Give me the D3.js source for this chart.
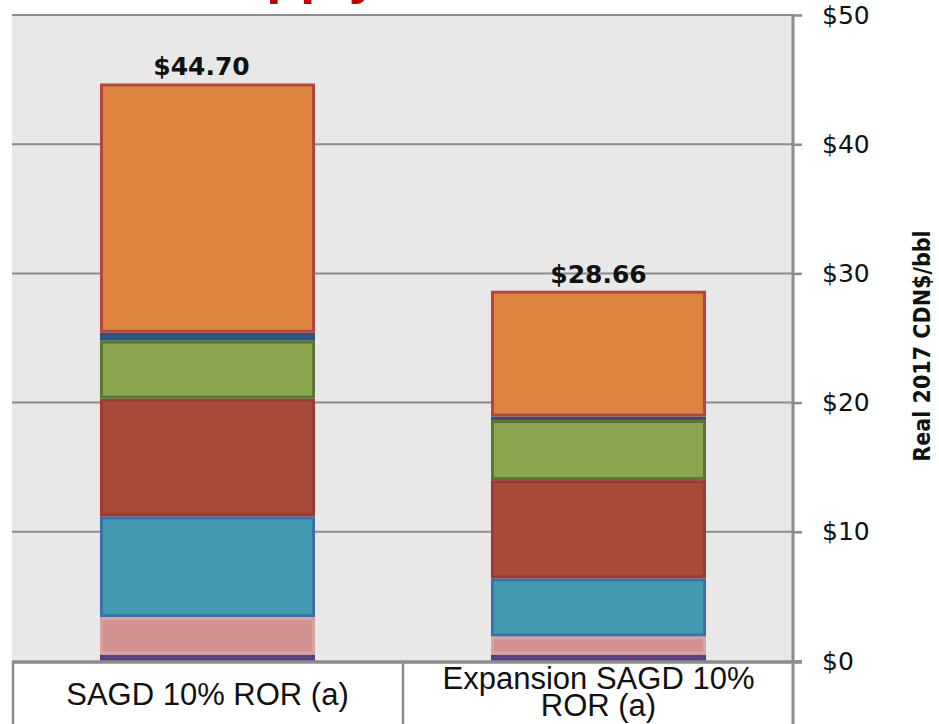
<!DOCTYPE html>
<html>
<head>
<script src="https://cdn.jsdelivr.net/npm/d3@7"></script>
<style>
    body { margin: 0; background: #fff; }
    svg { display: block; }
</style>
</head>
<body>
<svg id="chart"></svg>
<script>
    // Data (stack order: bottom to top)
    const categories = ["SAGD 10% ROR (a)", "Expansion SAGD 10% ROR (a)"];
    const categoryLines = [["SAGD 10% ROR (a)"], ["Expansion SAGD 10%", "ROR (a)"]];
    const seriesNames = ["purple", "pink", "teal", "red", "green", "blue", "orange"];
    const purpleVals = [0.5, 0.5];
    const pinkVals = [2.9, 1.4];
    const tealVals = [7.8, 4.5];
    const redVals = [9.1, 7.6];
    const greenVals = [4.5, 4.65];
    const blueVals = [0.6, 0.27];
    const orangeVals = [19.3, 9.74];
    const yTicks = [0, 10, 20, 30, 40, 50];
    const yTitle = "Real 2017 CDN$/bbl";

    const fills = ["#755791", "#d29291", "#4399b0", "#a84c39", "#8aa64e", "#2e5e8a", "#dd8540"];
    const strokes = ["#5a3d80", "#dba3a3", "#3a72a8", "#9b3b35", "#5f7432", "#2b5478", "#b0473a"];

    const width = 939, height = 724;
    const plot = { left: 12, right: 794, top: 15, bottom: 661 };

    const svg = d3.select("#chart").attr("width", width).attr("height", height);

    // build rows for stacking
    const allVals = [purpleVals, pinkVals, tealVals, redVals, greenVals, blueVals, orangeVals];
    const rows = categories.map((c, i) => {
        let r = { cat: c };
        seriesNames.forEach((s, j) => r[s] = allVals[j][i]);
        return r;
    });
    const stacked = d3.stack().keys(seriesNames)(rows);

    let x = d3.scaleBand(categories, [plot.left, plot.right]).padding(0);
    let y = d3.scaleLinear([0, 50], [plot.bottom, plot.top]);
    const barW = x.bandwidth() * 0.55;

    // red heading above the chart, mostly outside the picture
    svg.append("text")
        .attr("x", 196).attr("y", -8)
        .attr("font-family", "Liberation Sans, Arial, sans-serif")
        .attr("font-weight", "bold")
        .attr("font-size", 55)
        .attr("fill", "#c00000")
        .text("Supply");

    // plot background
    svg.append("rect")
        .attr("x", plot.left).attr("y", plot.top)
        .attr("width", plot.right - plot.left)
        .attr("height", plot.bottom - plot.top)
        .attr("fill", "#e8e8e8");

    // gridlines
    svg.append("g")
        .selectAll("line")
        .data(yTicks.filter(d => d > 0))
        .join("line")
        .attr("x1", plot.left).attr("x2", plot.right)
        .attr("y1", d => y(d)).attr("y2", d => y(d))
        .attr("stroke", "#8c8c8c")
        .attr("stroke-width", 2);

    // stacked bars
    svg.append("g")
        .selectAll("g")
        .data(stacked)
        .join("g")
        .attr("fill", (d, i) => fills[i])
        .attr("stroke", (d, i) => strokes[i])
        .attr("stroke-width", 3)
        .selectAll("rect")
        .data(d => d)
        .join("rect")
        .attr("x", d => x(d.data.cat) + (x.bandwidth() - barW) / 2 + 1.5)
        .attr("width", barW - 3)
        .attr("y", d => y(d[1]) + 1.5)
        .attr("height", d => Math.max(0, y(d[0]) - y(d[1]) - 3));

    // totals above bars
    svg.append("g")
        .selectAll("text")
        .data(rows)
        .join("text")
        .attr("x", (d, i) => x(d.cat) + x.bandwidth() / 2 - (i === 0 ? 6 : 0))
        .attr("y", d => y(d3.sum(seriesNames, s => d[s])) - 8)
        .attr("text-anchor", "middle")
        .attr("font-family", "DejaVu Sans, Verdana, sans-serif")
        .attr("font-weight", "bold")
        .attr("font-size", 25)
        .attr("fill", "#111")
        .text(d => "$" + d3.sum(seriesNames, s => d[s]).toFixed(2));

    // right value axis
    let yAxis = d3.axisRight(y)
        .tickValues(yTicks)
        .tickFormat(d => "$" + d)
        .tickSize(9)
        .tickSizeOuter(0)
        .tickPadding(20);

    let ag = svg.append("g")
        .attr("transform", `translate(${plot.right - 1},0)`)
        .call(yAxis);
    ag.select(".domain").remove();
    ag.selectAll(".tick line").attr("stroke", "#8c8c8c").attr("stroke-width", 2.5);
    ag.selectAll(".tick text")
        .attr("font-family", "DejaVu Sans, Verdana, sans-serif")
        .attr("font-size", 25)
        .attr("fill", "#111");

    svg.append("line")
        .attr("x1", plot.right - 1).attr("x2", plot.right - 1)
        .attr("y1", plot.top).attr("y2", height)
        .attr("stroke", "#8c8c8c").attr("stroke-width", 3);

    // category table below the axis
    svg.append("g")
        .selectAll("line")
        .data([plot.left + 1, x(categories[1])])
        .join("line")
        .attr("x1", d => d).attr("x2", d => d)
        .attr("y1", plot.bottom).attr("y2", height)
        .attr("stroke", "#8c8c8c").attr("stroke-width", 2.5);

    svg.append("line")
        .attr("x1", plot.left).attr("x2", plot.right + 8)
        .attr("y1", plot.bottom + 1).attr("y2", plot.bottom + 1)
        .attr("stroke", "#8c8c8c").attr("stroke-width", 3.5);

    let catText = svg.append("g")
        .selectAll("text")
        .data(categories)
        .join("text")
        .attr("x", d => x(d) + x.bandwidth() / 2)
        .attr("y", (d, i) => categoryLines[i].length > 1 ? 689 : 705)
        .attr("text-anchor", "middle")
        .attr("font-family", "Liberation Sans, Arial, sans-serif")
        .attr("font-size", 31)
        .attr("fill", "#111");
    catText.each(function(d, i) {
        d3.select(this).selectAll("tspan")
            .data(categoryLines[i])
            .join("tspan")
            .attr("x", x(d) + x.bandwidth() / 2)
            .attr("dy", (t, k) => k === 0 ? 0 : 27)
            .text(t => t);
    });

    // axis title
    svg.append("text")
        .attr("transform", "translate(930,346) rotate(-90)")
        .attr("text-anchor", "middle")
        .attr("font-family", "Liberation Sans Narrow, DejaVu Sans Condensed, sans-serif")
        .attr("font-weight", "bold")
        .attr("font-size", 23)
        .attr("fill", "#111")
        .text(yTitle);
</script>
</body>
</html>
